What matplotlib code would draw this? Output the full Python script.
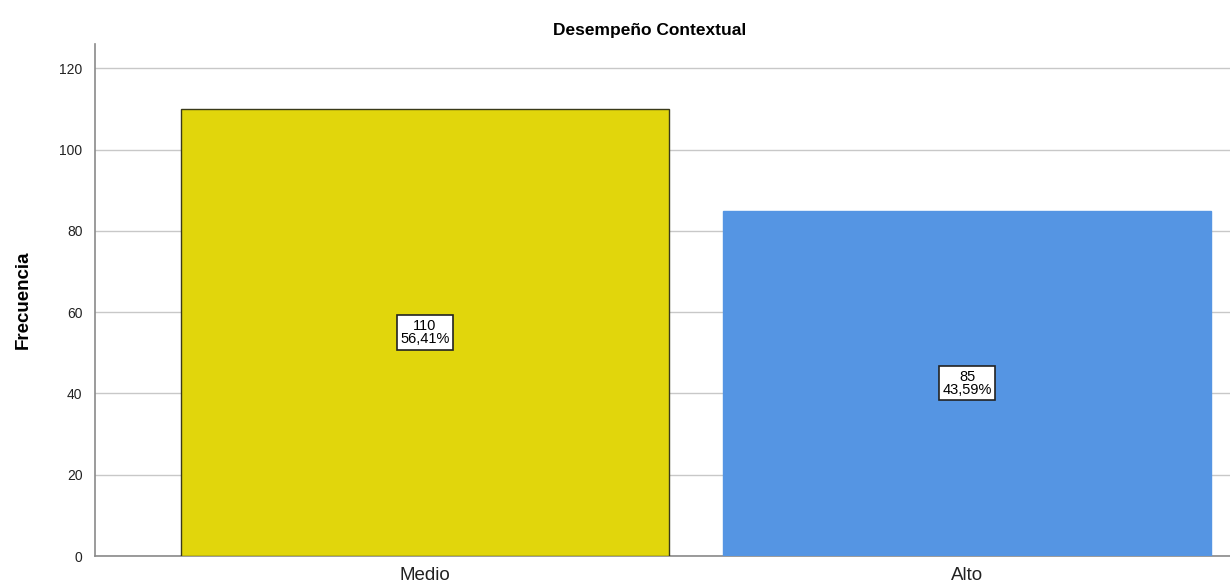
import matplotlib
matplotlib.use("Agg")
import matplotlib.pyplot as plt

plt.rcParams["font.family"] = ["Liberation Sans", "DejaVu Sans"]

categories = ["Medio", "Alto"]
counts = [110, 85]
percents = ["56,41%", "43,59%"]
colors = ["#E1D60C", "#5595E3"]
edges = ["#3a3a1a", "#5595E3"]
yticks = [0, 20, 40, 60, 80, 100, 120]

fig = plt.figure(figsize=(12.3, 5.87), dpi=100)
ax = fig.add_axes([0.0772, 0.0528, 0.9228, 0.8722])

x = range(len(categories))
ax.bar(x, counts, width=0.9, color=colors, edgecolor=edges, linewidth=1.0, zorder=3)

for xi, c, p in zip(x, counts, percents):
    ax.text(xi, c / 2, f"{c}\n{p}", ha="center", va="center", fontsize=10.5,
            linespacing=0.9, zorder=4,
            bbox=dict(boxstyle="square,pad=0.25", fc="white", ec="#222222", lw=1.2))

ax.set_xlim(-0.609, 1.485)
ax.set_ylim(0, 126)
ax.set_yticks(yticks)
ax.set_yticklabels([str(v) for v in yticks], fontsize=10, color="#222222")
ax.set_xticks(list(x))
ax.set_xticklabels(categories, fontsize=13.5, color="#222222")
ax.tick_params(axis="both", length=0, pad=9)
ax.tick_params(axis="x", pad=8)
ax.yaxis.grid(True, color="#c8c8c8", linewidth=1.0, zorder=0)
ax.set_axisbelow(True)
for s in ["top", "right"]:
    ax.spines[s].set_visible(False)
for s in ["left", "bottom"]:
    ax.spines[s].set_color("#8a8a8a")
    ax.spines[s].set_linewidth(1.2)

ax.set_ylabel("Frecuencia", fontsize=13.5, fontweight="bold", labelpad=20)
fig.text(0.528, 0.948, "Desempeño Contextual", ha="center", va="center", fontsize=12.5, fontweight="bold")

fig.savefig("out.png", dpi=100)
